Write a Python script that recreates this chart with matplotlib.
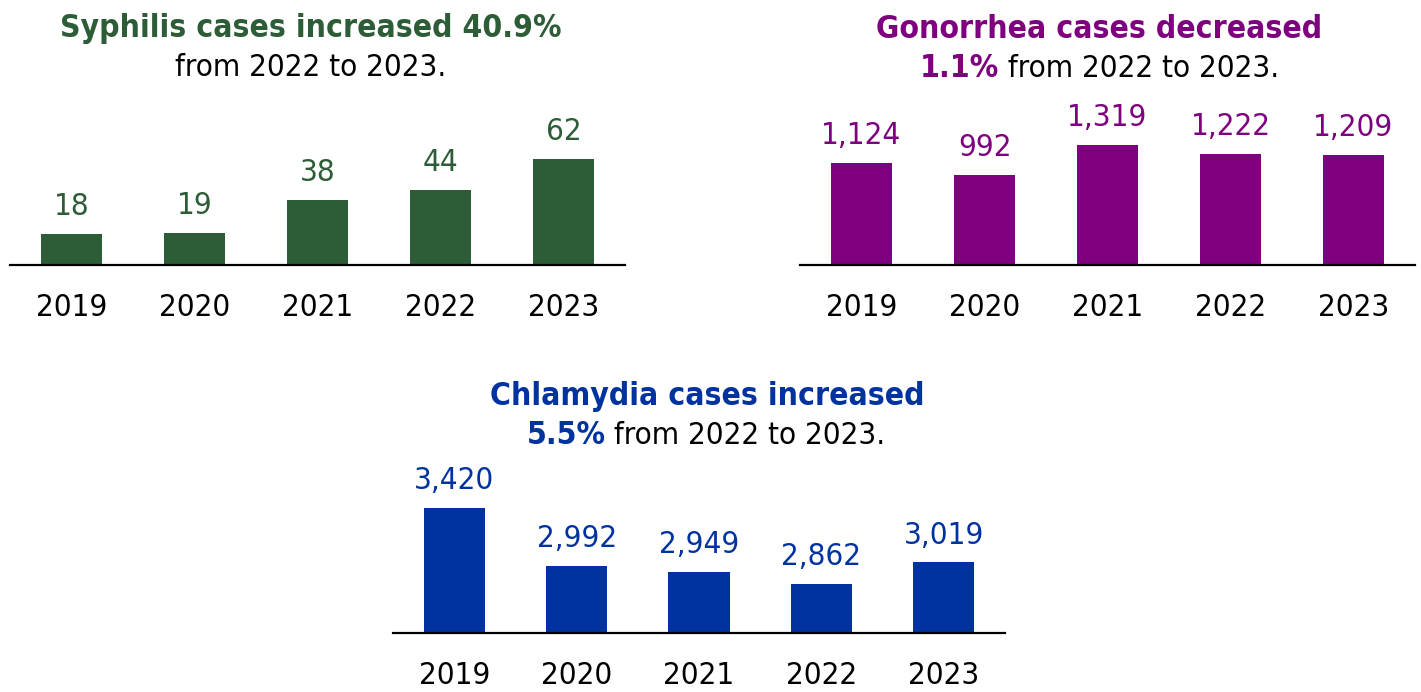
import matplotlib
matplotlib.use("Agg")
import matplotlib.pyplot as plt
from matplotlib import font_manager as fm
from matplotlib.font_manager import FontProperties

# ---------------- data ----------------
years = ["2019", "2020", "2021", "2022", "2023"]
syphilis = [18, 19, 38, 44, 62]
gonorrhea = [1124, 992, 1319, 1222, 1209]
chlamydia = [3420, 2992, 2949, 2862, 3019]

syph_title = "Syphilis cases increased 40.9%"
syph_sub = "from 2022 to 2023."
gono_title = "Gonorrhea cases decreased"
gono_pct = "1.1%"
gono_sub = " from 2022 to 2023."
chla_title = "Chlamydia cases increased"
chla_pct = "5.5%"
chla_sub = " from 2022 to 2023."

GREEN = "#2c5d36"
PURPLE = "#7f007f"
BLUE = "#0033a0"

# ---------------- fonts ----------------
def find_font(names):
    for f in fm.fontManager.ttflist:
        base = f.fname.replace("\\", "/").split("/")[-1]
        if base in names:
            return f.fname
    return None

cond = find_font(["DejaVuSansCondensed.ttf"])
cond_b = find_font(["DejaVuSansCondensed-Bold.ttf"])
FS = 22.5
FSB = 22.9
if cond and cond_b:
    fp_reg = FontProperties(fname=cond, size=FS)
    fp_bold = FontProperties(fname=cond_b, size=FSB)
else:
    fp_reg = FontProperties(family="DejaVu Sans", stretch="condensed", size=FS - 1.5)
    fp_bold = FontProperties(family="DejaVu Sans", stretch="condensed", weight="bold", size=FSB - 1.5)

W, H = 1421, 692
fig = plt.figure(figsize=(W / 100, H / 100), dpi=100)


def px_axes(left, right, base, height):
    return fig.add_axes([left / W, (H - base) / H, (right - left) / W, height / H])


def bar_panel(left, right, base, values, color, ymin, scale):
    ax = px_axes(left, right, base, 150)
    x = range(len(values))
    ax.bar(x, values, width=0.5, color=color)
    ax.set_xlim(-0.5, len(values) - 0.5)
    ax.set_ylim(ymin, ymin + 150 / scale)
    for s in ["top", "right", "left"]:
        ax.spines[s].set_visible(False)
    ax.spines["bottom"].set_linewidth(1.6)
    ax.spines["bottom"].set_color("black")
    ax.set_yticks([])
    ax.set_xticks(list(x))
    ax.set_xticklabels(years, fontproperties=fp_reg, color="black")
    ax.tick_params(axis="x", length=0, pad=20.5)
    for i, v in enumerate(values):
        ax.annotate(f"{v:,}", (i, v), xytext=(0, 13.5), textcoords="offset points",
                    ha="center", va="baseline", color=color, fontproperties=fp_reg)
    ax.patch.set_alpha(0)
    return ax


bar_panel(10, 625, 265, syphilis, GREEN, 0, 106 / 62)
bar_panel(800, 1415, 265, gonorrhea, PURPLE, 0, 120 / 1319)
bar_panel(393, 1005, 633, chlamydia, BLUE, 2500, 126 / 925)

renderer = fig.canvas.get_renderer()


def text_line(cx, baseline_y, segments):
    """segments: list of (text, fontprops, color); centred at cx (px)."""
    objs = []
    for t, fp, c in segments:
        o = fig.text(0, 1 - baseline_y / H, t, fontproperties=fp, color=c,
                     ha="left", va="baseline")
        objs.append(o)
    widths = [o.get_window_extent(renderer).width for o in objs]
    x = cx - sum(widths) / 2
    for o, w in zip(objs, widths):
        o.set_x(x / W)
        x += w


text_line(311, 37, [(syph_title, fp_bold, GREEN)])
text_line(311, 76, [(syph_sub, fp_reg, "black")])
text_line(1099, 38, [(gono_title, fp_bold, PURPLE)])
text_line(1099, 77, [(gono_pct, fp_bold, PURPLE), (gono_sub, fp_reg, "black")])
text_line(707, 405, [(chla_title, fp_bold, BLUE)])
text_line(706, 444, [(chla_pct, fp_bold, BLUE), (chla_sub, fp_reg, "black")])

fig.savefig("out.png", dpi=100, facecolor="white")
